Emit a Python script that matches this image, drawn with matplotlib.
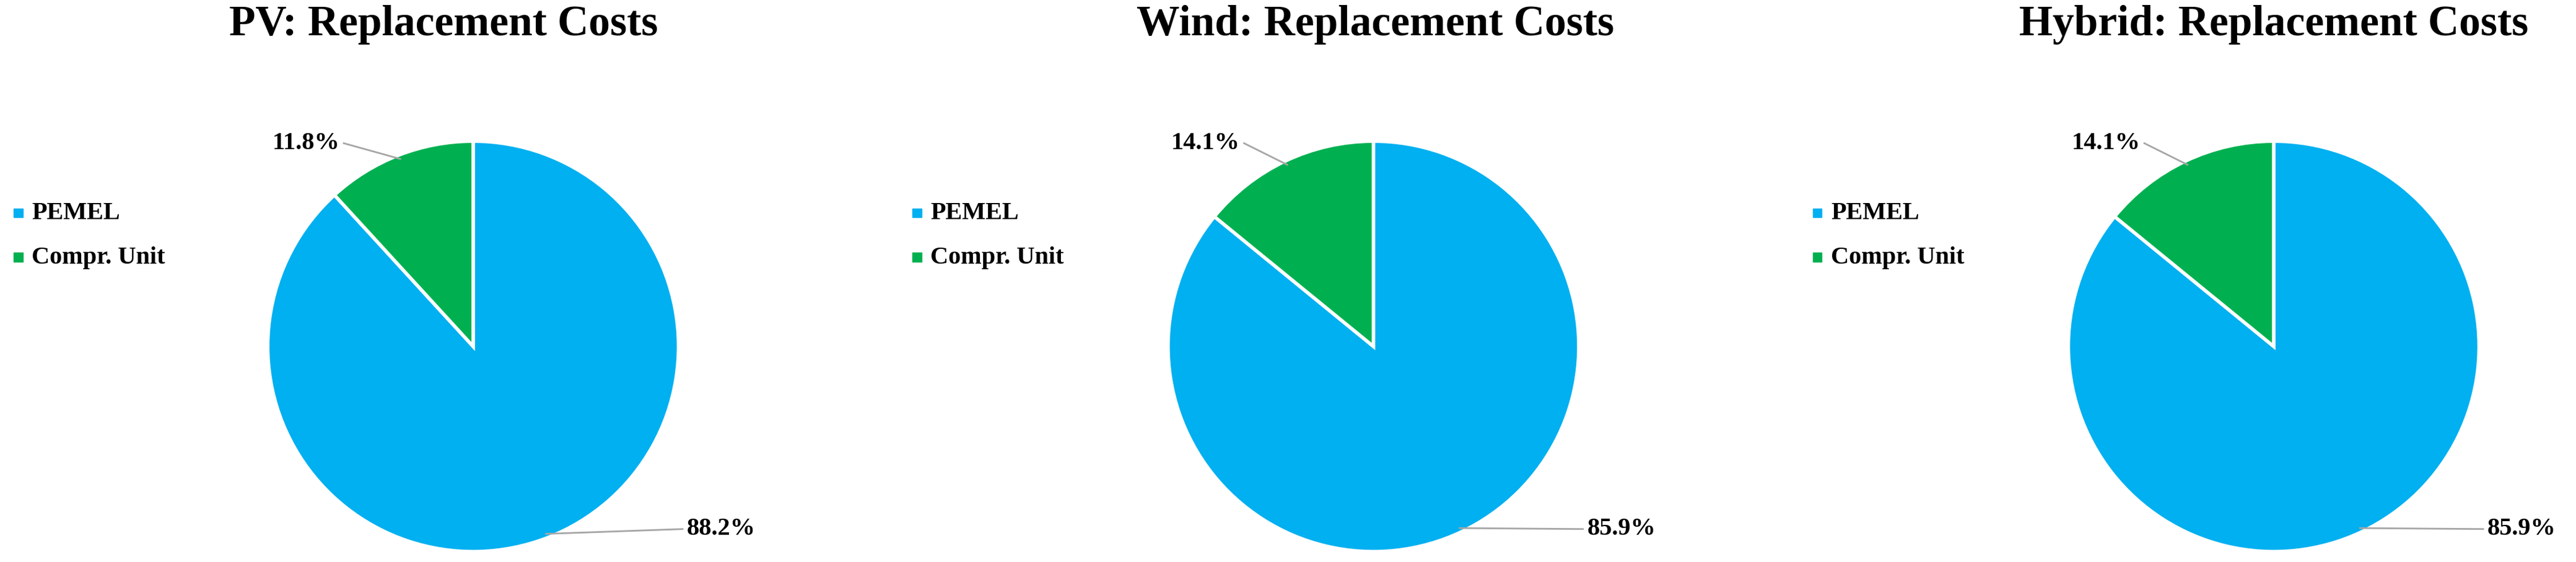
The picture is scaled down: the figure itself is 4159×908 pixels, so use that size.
import matplotlib.pyplot as plt
import numpy as np

plt.rcParams['font.family'] = ['Liberation Serif', 'DejaVu Serif']
plt.rcParams['font.weight'] = 'bold'

titles = ['PV: Replacement Costs', 'Wind: Replacement Costs', 'Hybrid: Replacement Costs']
categories = ['PEMEL', 'Compr. Unit']
pemel = [88.2, 85.9, 85.9]
compr = [11.8, 14.1, 14.1]
colors = ['#00B0F0', '#00B050']

W, H = 4159, 908
s = W / 1568.0
fig = plt.figure(figsize=(W / 100, H / 100), dpi=100)

centers_x = [288, 836, 1384]
title_x = [270, 837, 1384]
legend_x = [10, 557, 1105]
cy = 211
R = 125

for i in range(3):
    ax = fig.add_axes([(centers_x[i] - R) * s / W, 1 - (cy + R) * s / H,
                       2 * R * s / W, 2 * R * s / H])
    ax.pie([pemel[i], compr[i]], colors=colors, startangle=90, counterclock=False,
           radius=1, wedgeprops=dict(edgecolor='white', linewidth=4))
    ax.set_xlim(-1, 1)
    ax.set_ylim(-1, 1)
    ax.axis('off')

    # leader lines + labels
    ga = np.deg2rad(90 + compr[i] / 100 * 360 / 2)
    ax.plot([-0.63, np.cos(ga) * 0.98], [0.99, np.sin(ga) * 0.98], color='#A6A6A6',
            lw=2, clip_on=False)
    ax.text(-0.65, 0.99, f'{compr[i]:.1f}%', ha='right', va='center', fontsize=29,
            fontweight='bold')
    ba = np.deg2rad(90 - pemel[i] / 100 * 360 / 2)
    ax.plot([np.cos(ba) * 0.98, 1.02], [np.sin(ba) * 0.98, -0.89], color='#A6A6A6',
            lw=2, clip_on=False)
    ax.text(1.04, -0.89, f'{pemel[i]:.1f}%', ha='left', va='center', fontsize=29,
            fontweight='bold')

    fig.text(title_x[i] * s / W, 1 - 15 * s / H, titles[i], ha='center', va='center',
             fontsize=50, fontweight='bold')
    for j, (cat, col) in enumerate(zip(categories, colors)):
        yy = 1 - (130 + 27 * j) * s / H
        fig.patches.append(plt.Rectangle((legend_x[i] * s / W - 0.001, yy - 0.007),
                                         0.0035, 0.016, color=col, transform=fig.transFigure))
        fig.text(legend_x[i] * s / W + 0.006, yy, cat, ha='left', va='center',
                 fontsize=29, fontweight='bold')

fig.savefig('out.png', dpi=100)
